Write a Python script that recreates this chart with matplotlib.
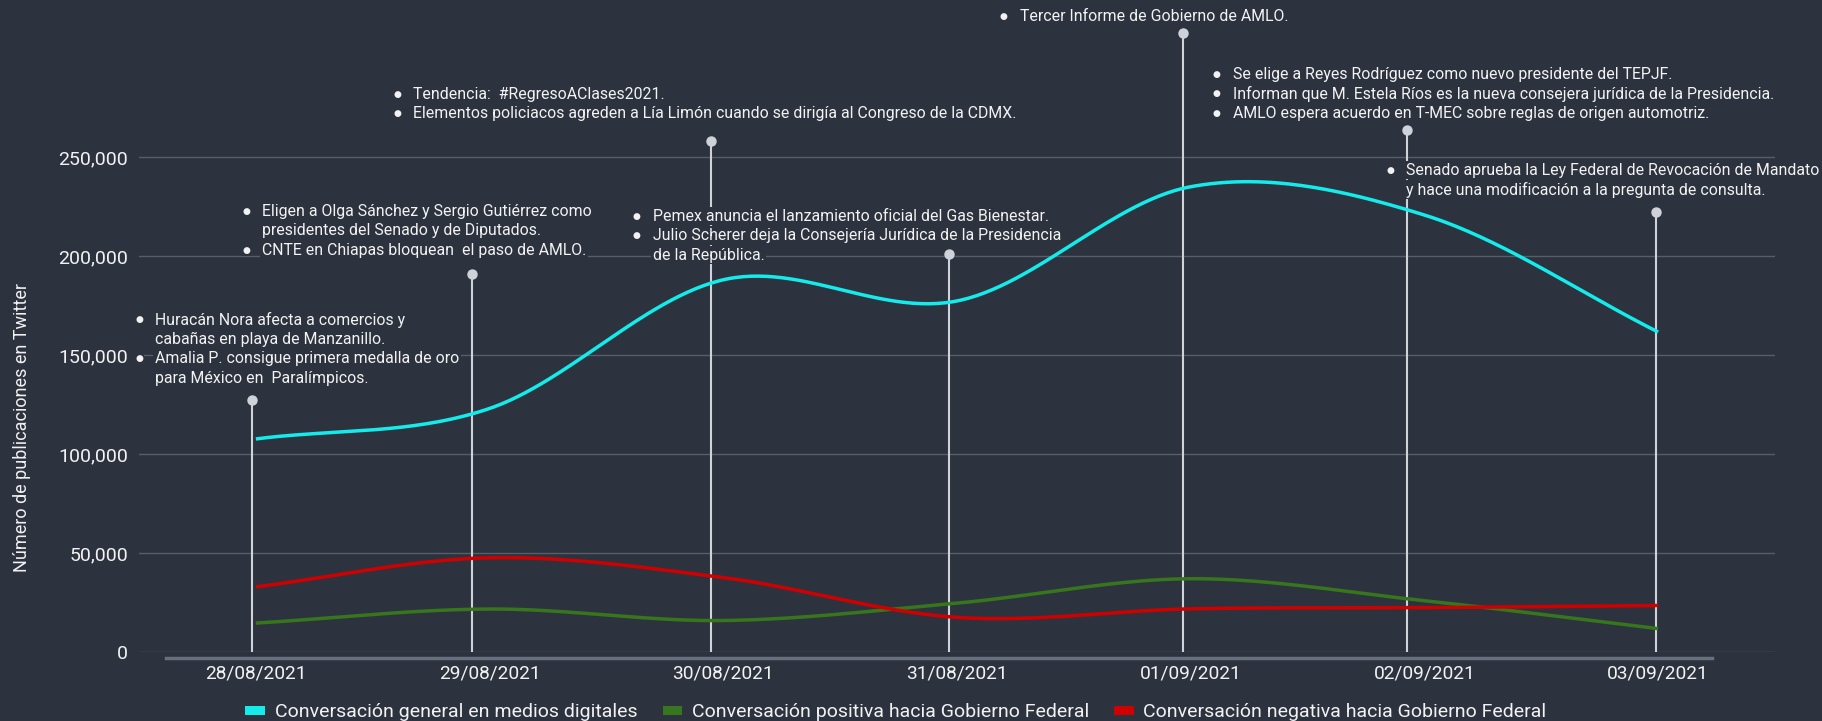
import matplotlib
matplotlib.use("Agg")
import matplotlib.pyplot as plt
from matplotlib.patches import Patch
from matplotlib.ticker import FuncFormatter
import numpy as np

plt.rcParams['font.family'] = ['Roboto', 'DejaVu Sans']

# ---- data ----
dates = ["28/08/2021", "29/08/2021", "30/08/2021", "31/08/2021",
         "01/09/2021", "02/09/2021", "03/09/2021"]
general = [107600, 123000, 188000, 177300, 235000, 220700, 161600]
positiva = [14600, 21700, 15900, 24700, 37000, 25900, 11800]
negativa = [32900, 47600, 37600, 17500, 21800, 22400, 23500]
series_names = ["Conversación general en medios digitales",
                "Conversación positiva hacia Gobierno Federal",
                "Conversación negativa hacia Gobierno Federal"]

# events per day: bullet items, each item is a list of wrapped lines
notes = [
    [["Huracán Nora afecta a comercios y", "cabañas en playa de Manzanillo."],
     ["Amalia P. consigue primera medalla de oro", "para México en  Paralímpicos."]],
    [["Eligen a Olga Sánchez y Sergio Gutiérrez como", "presidentes del Senado y de Diputados."],
     ["CNTE en Chiapas bloquean  el paso de AMLO."]],
    [["Tendencia:  #RegresoAClases2021."],
     ["Elementos policiacos agreden a Lía Limón cuando se dirigía al Congreso de la CDMX."]],
    [["Pemex anuncia el lanzamiento oficial del Gas Bienestar."],
     ["Julio Scherer deja la Consejería Jurídica de la Presidencia", "de la República."]],
    [["Tercer Informe de Gobierno de AMLO."]],
    [["Se elige a Reyes Rodríguez como nuevo presidente del TEPJF."],
     ["Informan que M. Estela Ríos es la nueva consejera jurídica de la Presidencia."],
     ["AMLO espera acuerdo en T-MEC sobre reglas de origen automotriz."]],
    [["Senado aprueba la Ley Federal de Revocación de Mandato",
      "y hace una modificación a la pregunta de consulta."]],
]

# ---- layout of the callouts (x in day index units, y in chart units) ----
stem_shift = [-0.017, -0.076, -0.054, -0.036, -0.035, -0.073, -0.008]
stem_top = [127300, 190900, 258100, 201000, 312600, 263600, 222200]
note_xy = [(-0.432, 167700), (0.026, 222700), (0.672, 281800), (1.698, 220200),
           (3.268, 321200), (4.179, 291900), (4.923, 243400)]
bullet_dx = -0.068
line_step = 9850

bg = '#2d333e'
grid_c = '#575e69'
txt_c = '#f2f2f2'
colors = ['#14ecec', '#38761d', '#d00000']


def smooth(x, y, n_seg=60):
    # cardinal (Catmull-Rom) curve through the points
    x = np.asarray(x, float)
    y = np.asarray(y, float)
    m = np.empty_like(y)
    m[1:-1] = (y[2:] - y[:-2]) / 2
    m[0] = y[1] - y[0]
    m[-1] = y[-1] - y[-2]
    xs, ys = [], []
    t = np.linspace(0, 1, n_seg)
    for i in range(len(x) - 1):
        h00 = 2 * t**3 - 3 * t**2 + 1
        h10 = t**3 - 2 * t**2 + t
        h01 = -2 * t**3 + 3 * t**2
        h11 = t**3 - t**2
        xs.append(x[i] + t * (x[i + 1] - x[i]))
        ys.append(h00 * y[i] + h10 * m[i] + h01 * y[i + 1] + h11 * m[i + 1])
    return np.concatenate(xs), np.concatenate(ys)


fig = plt.figure(figsize=(18.22, 7.21), dpi=100, facecolor=bg)
ax = fig.add_axes([139 / 1822, 69 / 721, 1636 / 1822, 652 / 721])
ax.set_facecolor(bg)

x = np.arange(len(dates))
for vals, col, name in zip([general, positiva, negativa], colors, series_names):
    xs, ys = smooth(x, vals)
    ax.plot(xs, ys, color=col, lw=2.5, zorder=5, solid_capstyle='butt', label=name)

# stems with a dot on top
for i in range(len(dates)):
    sx = x[i] + stem_shift[i]
    ax.plot([sx, sx], [0, stem_top[i]], color='#cfd2d8', lw=1.5, zorder=2)
    ax.plot(sx, stem_top[i], 'o', ms=6.5, color='#cfd2d8', zorder=2)

# callout texts
box = dict(boxstyle='square,pad=0.12', fc=bg, ec='none')
for items, (tx, ty) in zip(notes, note_xy):
    k = 0
    for item in items:
        for j, line in enumerate(item):
            yy = ty - k * line_step
            if j == 0:
                ax.text(tx + bullet_dx, yy, '●', fontsize=6.5, color=txt_c,
                        family='DejaVu Sans', ha='center', va='center', zorder=3, bbox=box)
            ax.text(tx, yy, line, fontsize=11.4, color=txt_c, ha='left',
                    va='center', zorder=3, bbox=box)
            k += 1

ax.set_xlim(-0.5, 6.5)
ax.set_ylim(0, 329300)
ax.set_xticks(x)
ax.set_xticklabels(dates)
ax.set_yticks(np.arange(0, 250001, 50000))
ax.yaxis.set_major_formatter(FuncFormatter(lambda v, p: f"{int(v):,}"))
ax.tick_params(axis='both', length=0, colors=txt_c)
ax.tick_params(axis='y', labelsize=14, pad=8)
ax.tick_params(axis='x', labelsize=13.8, pad=5)
ax.grid(axis='y', color=grid_c, lw=1)
ax.set_axisbelow(True)
for s in ['top', 'right', 'left']:
    ax.spines[s].set_visible(False)
ax.spines['bottom'].set_color('#67707c')
ax.spines['bottom'].set_linewidth(2.5)
ax.spines['bottom'].set_position(('outward', 4))
ax.spines['bottom'].set_bounds(-0.385, 6.23)

ax.set_ylabel("Número de publicaciones en Twitter", fontsize=13, color=txt_c)
ax.yaxis.set_label_coords(-0.066, 0.344)

handles = [Patch(facecolor=c, edgecolor='none') for c in colors]
fig.legend(handles, series_names, loc='center', bbox_to_anchor=(896 / 1822, 0.012),
           ncol=3, frameon=False, fontsize=14, labelcolor=txt_c,
           handlelength=1.0, handleheight=0.38, handletextpad=0.5, columnspacing=1.3)

fig.savefig("out.png", dpi=100, facecolor=bg)
